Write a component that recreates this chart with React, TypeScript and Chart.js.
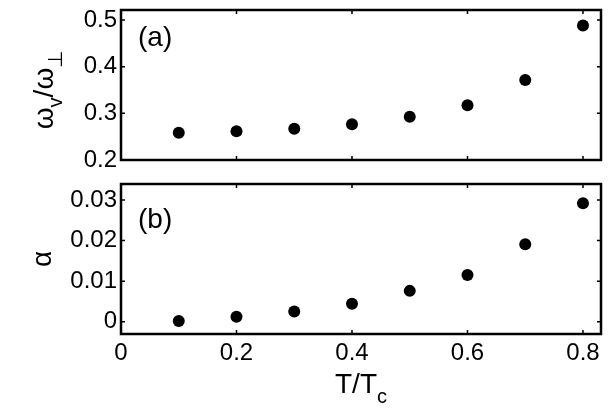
import React, { useEffect, useRef } from "react";
import { Chart, registerables } from "chart.js";

Chart.register(...registerables);

const tValues = [0.1, 0.2, 0.3, 0.4, 0.5, 0.6, 0.7, 0.8];
const omegaRatio = [0.2585, 0.2614, 0.267, 0.2764, 0.2925, 0.3175, 0.3715, 0.488];
const alphaValues = [0.0002, 0.0012, 0.0025, 0.0044, 0.0076, 0.0115, 0.0191, 0.0292];
const xTicks = [0, 0.2, 0.4, 0.6, 0.8];
const omegaTicks = [0.2, 0.3, 0.4, 0.5];
const alphaTicks = [0, 0.01, 0.02, 0.03];

const FAMILY = "'Liberation Sans', Arial, Helvetica, sans-serif";

type Part = { t: string; size: number; dy: number };

function drawRich(
  ctx: CanvasRenderingContext2D,
  parts: Part[],
  cx: number,
  cy: number,
  rotate: boolean
) {
  ctx.save();
  let total = 0;
  const widths = parts.map((p) => {
    ctx.font = `${p.size}px ${FAMILY}`;
    const w = ctx.measureText(p.t).width;
    total += w;
    return w;
  });
  ctx.translate(cx, cy);
  if (rotate) ctx.rotate(-Math.PI / 2);
  ctx.fillStyle = "#000";
  ctx.textBaseline = "alphabetic";
  ctx.textAlign = "left";
  let x = -total / 2;
  parts.forEach((p, i) => {
    ctx.font = `${p.size}px ${FAMILY}`;
    ctx.fillText(p.t, x, p.dy);
    x += widths[i];
  });
  ctx.restore();
}

function framePlugin(opts: {
  label: string;
  labelY: number;
  yTitle: Part[];
  yTitleX: number;
  yTitleY: number;
  xTitle?: Part[];
  xTitleX?: number;
  xTitleY?: number;
}) {
  return {
    id: "frame",
    afterDraw(chart: any) {
      const ctx: CanvasRenderingContext2D = chart.ctx;
      const { left, right, top, bottom } = chart.chartArea;
      const xs = chart.scales.x;
      const ys = chart.scales.y;
      ctx.save();
      ctx.strokeStyle = "#000";
      ctx.lineWidth = 1.5;
      const tl = 4;
      ctx.beginPath();
      xs.ticks.forEach((t: any) => {
        const px = xs.getPixelForValue(t.value);
        ctx.moveTo(px, bottom);
        ctx.lineTo(px, bottom - tl);
        ctx.moveTo(px, top);
        ctx.lineTo(px, top + tl);
      });
      ys.ticks.forEach((t: any) => {
        const py = ys.getPixelForValue(t.value);
        ctx.moveTo(left, py);
        ctx.lineTo(left + tl, py);
        ctx.moveTo(right, py);
        ctx.lineTo(right - tl, py);
      });
      ctx.stroke();
      ctx.lineWidth = 2.5;
      ctx.strokeRect(left, top, right - left, bottom - top);
      ctx.fillStyle = "#000";
      ctx.font = `28px ${FAMILY}`;
      ctx.textBaseline = "middle";
      ctx.textAlign = "left";
      ctx.fillText(opts.label, 138, opts.labelY);
      ctx.restore();
      drawRich(ctx, opts.yTitle, opts.yTitleX, opts.yTitleY, true);
      if (opts.xTitle) {
        drawRich(ctx, opts.xTitle, opts.xTitleX as number, opts.xTitleY as number, false);
      }
    },
  };
}

function makeChart(
  canvas: HTMLCanvasElement,
  yValues: number[],
  yMin: number,
  yMax: number,
  yTickVals: number[],
  padTop: number,
  xAxisHeight: number,
  showX: boolean,
  plugin: any
) {
  const tickFont = { family: FAMILY, size: 24 };
  return new Chart(canvas, {
    type: "scatter",
    data: {
      datasets: [
        {
          data: tValues.map((x, i) => ({ x, y: yValues[i] })),
          backgroundColor: "#000",
          borderColor: "#000",
          borderWidth: 0,
          pointRadius: 6,
          pointHoverRadius: 6,
        },
      ],
    },
    options: {
      animation: false,
      responsive: false,
      devicePixelRatio: 1,
      events: [],
      layout: { padding: { top: padTop, right: 8, left: 0, bottom: 0 } },
      plugins: { legend: { display: false }, tooltip: { enabled: false } },
      scales: {
        x: {
          type: "linear",
          min: 0,
          max: 0.8312,
          afterBuildTicks: (s: any) => {
            s.ticks = xTicks.map((v) => ({ value: v }));
          },
          afterFit: (s: any) => {
            s.height = xAxisHeight;
            s.paddingLeft = 0;
            s.paddingRight = 0;
          },
          grid: { display: false, drawTicks: false },
          border: { display: false },
          ticks: {
            display: showX,
            font: tickFont,
            color: "#000",
            padding: 5,
            maxRotation: 0,
            autoSkip: false,
            callback: (v: any) => String(v),
          },
        },
        y: {
          type: "linear",
          min: yMin,
          max: yMax,
          afterBuildTicks: (s: any) => {
            s.ticks = yTickVals.map((v) => ({ value: v }));
          },
          afterFit: (s: any) => {
            s.width = 121;
            s.paddingTop = 0;
            s.paddingBottom = 0;
          },
          grid: { display: false, drawTicks: false },
          border: { display: false },
          ticks: {
            font: tickFont,
            color: "#000",
            padding: 4,
            autoSkip: false,
            callback: (v: any) => String(v),
          },
        },
      },
    },
    plugins: [plugin],
  } as any);
}

export default function App() {
  const topRef = useRef<HTMLCanvasElement>(null);
  const botRef = useRef<HTMLCanvasElement>(null);

  useEffect(() => {
    const top = makeChart(
      topRef.current as HTMLCanvasElement,
      omegaRatio,
      0.2,
      0.5214,
      omegaTicks,
      10,
      15,
      false,
      framePlugin({
        label: "(a)",
        labelY: 38,
        yTitle: [
          { t: "ω", size: 28, dy: 0 },
          { t: "v", size: 20, dy: 9 },
          { t: "/", size: 28, dy: 0 },
          { t: "ω", size: 28, dy: 0 },
          { t: "⊥", size: 20, dy: 9 },
        ],
        yTitleX: 53,
        yTitleY: 90,
      })
    );
    const bot = makeChart(
      botRef.current as HTMLCanvasElement,
      alphaValues,
      -0.00303,
      0.03394,
      alphaTicks,
      9,
      84,
      true,
      framePlugin({
        label: "(b)",
        labelY: 220 - 175,
        yTitle: [{ t: "α", size: 28, dy: 0 }],
        yTitleX: 51,
        yTitleY: 259 - 175,
        xTitle: [
          { t: "T/T", size: 28, dy: 0 },
          { t: "c", size: 20, dy: 10 },
        ],
        xTitleX: 361,
        xTitleY: 393 - 175,
      })
    );
    return () => {
      top.destroy();
      bot.destroy();
    };
  }, []);

  return (
    <div style={{ position: "absolute", left: 0, top: 0, width: 609, height: 418, background: "#fff" }}>
      <canvas
        ref={topRef}
        width={609}
        height={175}
        style={{ position: "absolute", left: 0, top: 0, display: "block" }}
      />
      <canvas
        ref={botRef}
        width={609}
        height={243}
        style={{ position: "absolute", left: 0, top: 175, display: "block" }}
      />
    </div>
  );
}
